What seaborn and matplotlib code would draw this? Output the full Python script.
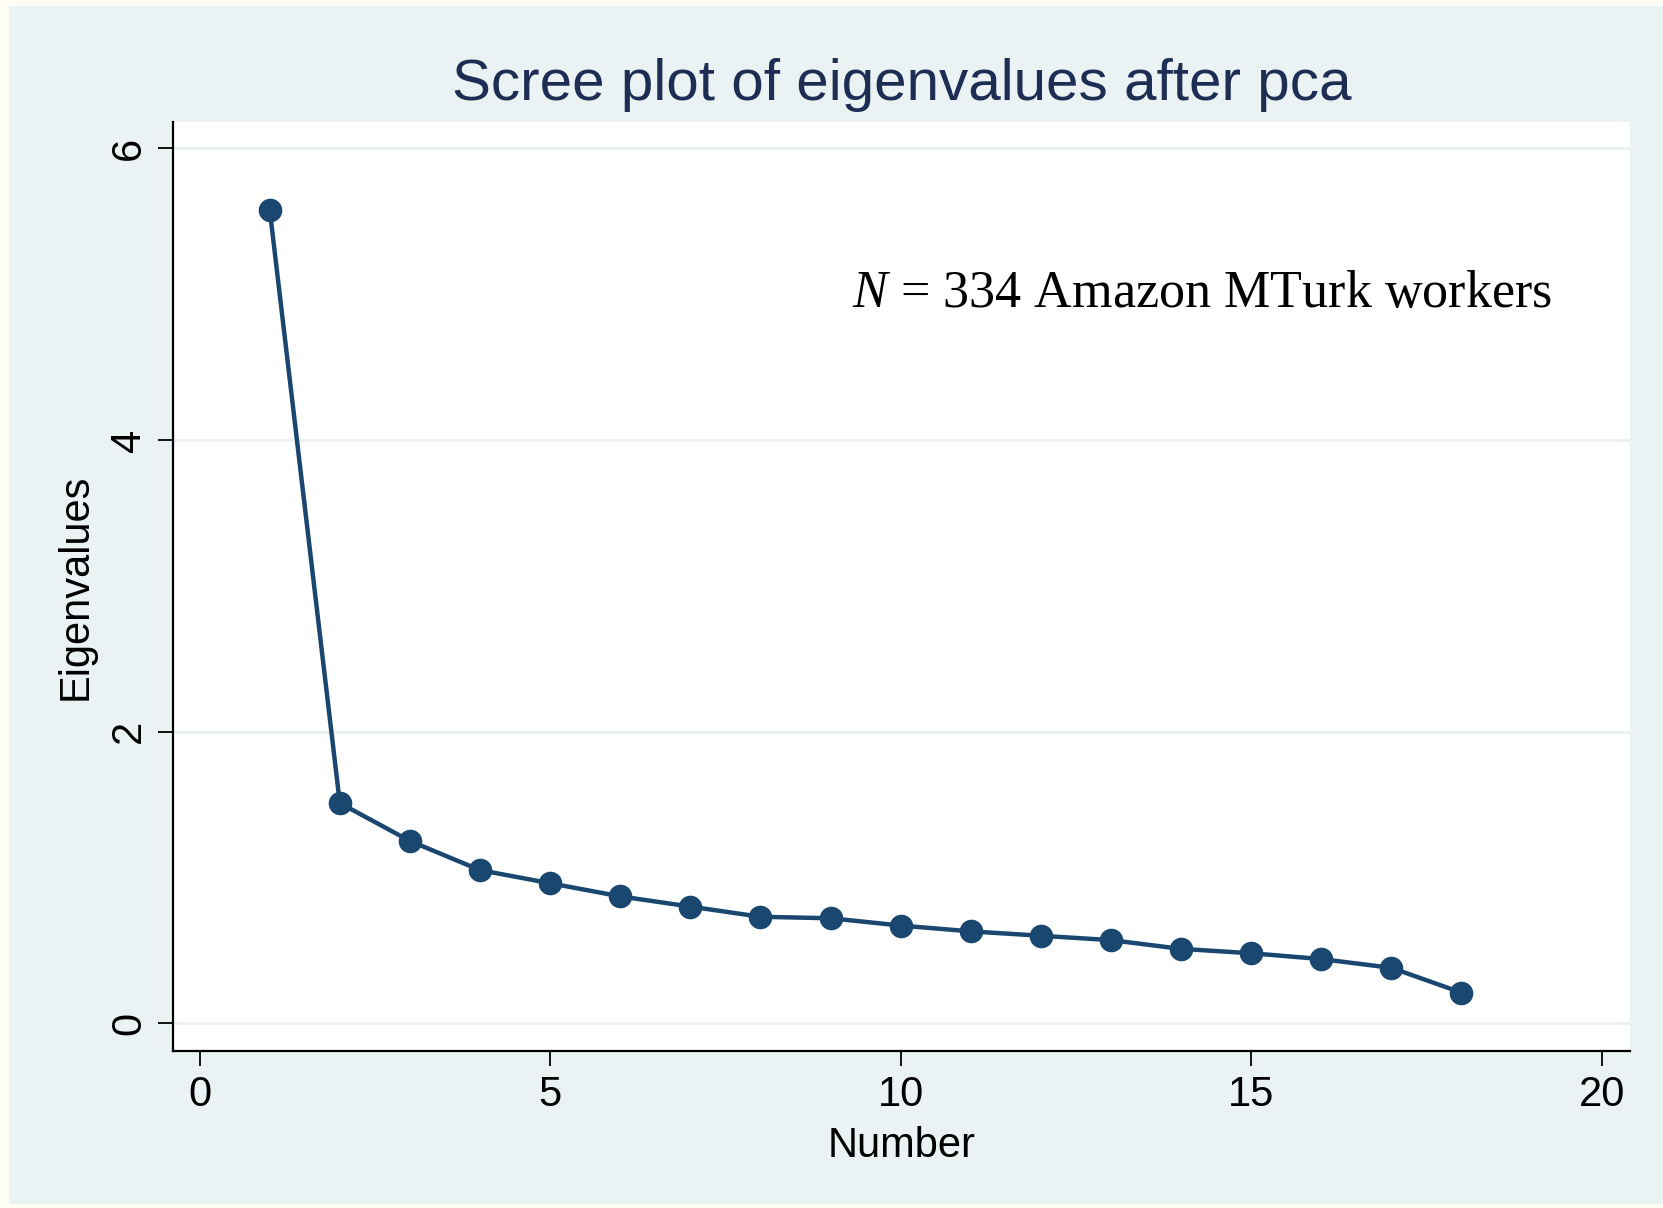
import matplotlib
matplotlib.use('Agg')
import matplotlib.pyplot as plt
from matplotlib.patches import Rectangle
import seaborn as sns

## data
number = list(range(1, 19))
eigenvalues = [5.58, 1.51, 1.25, 1.05, 0.96, 0.87, 0.80, 0.73, 0.72,
               0.67, 0.63, 0.60, 0.57, 0.51, 0.48, 0.44, 0.38, 0.21]
xticks = [0, 5, 10, 15, 20]
yticks = [0, 2, 4, 6]

navy = '#1a476f'
graph_bg = '#eaf2f3'

sns.set_style('white')
plt.rcParams['font.family'] = ['Liberation Sans', 'DejaVu Sans']
plt.rcParams['mathtext.fontset'] = 'custom'
plt.rcParams['mathtext.it'] = 'Liberation Serif:italic'
plt.rcParams['mathtext.rm'] = 'Liberation Serif'
plt.rcParams['text.color'] = 'black'
plt.rcParams['axes.labelcolor'] = 'black'

fig = plt.figure(figsize=(16.63, 12.08), dpi=100, facecolor='#fdfdf3')
fig.patches.append(Rectangle((0.0054, 0.003), 0.9946, 0.992, transform=fig.transFigure,
                             facecolor=graph_bg, edgecolor='none', zorder=-10))
ax = fig.add_axes([0.104, 0.130, 0.876, 0.769])
ax.set_facecolor('white')

## grid lines
for yv in yticks:
    ax.axhline(yv, color=graph_bg, linewidth=2.2, zorder=1)

sns.lineplot(x=number, y=eigenvalues, ax=ax, color=navy, linewidth=3.2,
             marker='o', markersize=17, markeredgewidth=0, zorder=3)

ax.set_xlim(-0.38, 20.40)
ax.set_ylim(-0.19, 6.18)
ax.set_xticks(xticks)
ax.set_yticks(yticks)
ax.tick_params(axis='both', labelsize=30, length=11, width=1.3, color='black', pad=6,
               direction='out', bottom=True, left=True, labelcolor='black')
for lab in ax.get_yticklabels():
    lab.set_rotation(90)
    lab.set_va('center')

for s in ['top', 'right']:
    ax.spines[s].set_visible(False)
for s in ['left', 'bottom']:
    ax.spines[s].set_color('black')
    ax.spines[s].set_linewidth(1.6)

ax.set_xlabel('Number', fontsize=30, labelpad=8)
ax.set_ylabel('Eigenvalues', fontsize=30, labelpad=10)
ax.set_title('Scree plot of eigenvalues after pca', fontsize=42, color='#1e2d53', pad=16)

ax.text(9.3, 5.0, '$N$ = 334 Amazon MTurk workers', fontsize=37.5,
        family='Liberation Serif', ha='left', va='center', color='black')

fig.savefig('out.png', dpi=100, facecolor=fig.get_facecolor())
